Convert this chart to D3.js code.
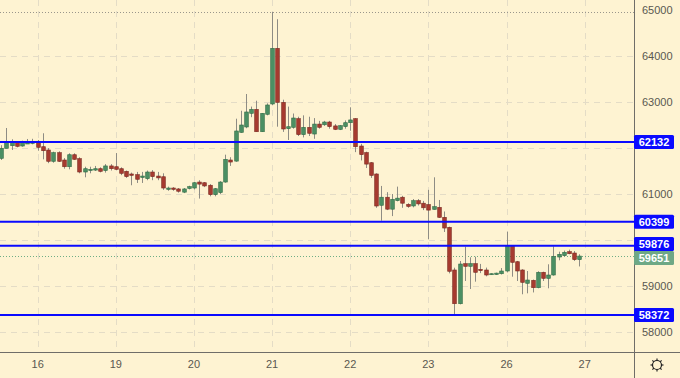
<!DOCTYPE html>
<html>
<head>
<meta charset="utf-8">
<script src="https://cdn.jsdelivr.net/npm/d3@7"></script>
<style>
html, body { margin: 0; padding: 0; background: #fef3d2; }
svg { display: block; font-family: "Liberation Sans", Arial, sans-serif; }
</style>
</head>
<body>
<div id="chart"></div>
<script>
// valores (um candle por barra)
var opens = [61776,61993,62050,62115,62043,62087,62100,62146,62028,61957,61711,61898,61739,61593,61854,61768,61478,61510,61520,61550,
  61510,61610,61593,61550,61493,61435,61420,61360,61333,61478,61390,61375,61100,61130,61110,61040,61120,61130,61260,61245,
  61190,60985,61030,61260,61739,61715,62340,62457,62754,62840,62354,62733,62957,64167,62993,62420,62450,62637,62290,62450,
  62304,62520,62505,62565,62480,62405,62465,62550,62637,62043,61900,61680,61435,60755,60930,60670,60855,60930,60775,60740,
  60855,60800,60770,60665,60710,60493,60276,59348,58615,59485,59428,59485,59363,59348,59254,59250,59267,59326,59876,59528,
  59348,59059,59124,58963,59298,59167,59239,59630,59659,59746,59717,59572];
var highs = [62060,62435,62189,62152,62159,62196,62200,62174,62320,62000,61920,61928,61780,61885,61885,61798,61593,61593,61610,61580,
  61650,61650,61890,61580,61510,61465,61480,61480,61510,61520,61480,61450,61160,61150,61130,61130,61180,61260,61300,61260,
  61215,61130,61280,61855,61800,62637,62810,63174,62900,63028,62760,62970,64957,64800,63050,62900,62750,62680,62710,62680,
  62650,62590,62590,62590,62520,62500,62600,62885,62650,62090,61920,61695,61450,61175,61040,61000,61160,60960,60800,60890,
  60890,60850,61090,61363,60870,60620,60290,59398,59544,59855,59624,59637,59480,59400,59275,59290,59390,60180,59890,59545,
  59365,59326,59140,59320,59311,59472,59863,59746,59770,59790,59760,59690];
var lows = [61740,61990,61957,62015,62028,62087,62080,61941,61754,61670,61680,61696,61550,61537,61740,61450,61363,61450,61500,61470,
  61465,61510,61520,61410,61350,61190,61240,61240,61300,61300,61300,61090,61070,61070,61030,61020,61100,61100,60900,61150,
  60950,60950,61000,61245,61610,61700,62330,62430,62670,62354,62350,62710,62930,62463,62350,62174,62420,62260,62230,62260,
  62200,62420,62480,62420,62390,62390,62420,62375,61910,61730,61565,61350,60700,60420,60650,60520,60840,60700,60700,60710,
  60750,60650,60015,60660,60480,60174,59275,58370,58600,59109,58935,59094,59280,59210,59240,59240,59250,59295,59202,59109,
  58820,58841,58860,58950,59109,58950,59225,59559,59640,59690,59545,59425];
var closes = [61994,62137,62137,62037,62115,62146,62140,62015,61941,61711,61898,61711,61593,61854,61754,61478,61550,61537,61550,61493,
  61610,61550,61537,61450,61377,61406,61320,61390,61478,61377,61350,61130,61130,61100,61060,61110,61160,61245,61215,61175,
  60985,61115,61260,61754,61695,62370,62500,62783,62840,62354,62754,62935,64167,62993,62413,62463,62652,62290,62450,62320,
  62520,62450,62565,62465,62405,62485,62550,62610,62028,61855,61650,61405,60739,60930,60670,60885,60910,60800,60730,60855,
  60785,60700,60650,60725,60493,60260,59320,58615,59478,59428,59485,59298,59333,59239,59267,59280,59326,59876,59515,59326,
  59080,59130,58963,59298,59167,59239,59646,59689,59733,59702,59572,59651];

var dayLabels = ["16", "19", "20", "21", "22", "23", "26", "27"];
var dayBars = [7, 22, 37, 52, 67, 82, 97, 112];
var priceTicks = [58000, 59000, 60000, 61000, 62000, 63000, 64000, 65000];
var levels = [62132, 60399, 59876, 58372];
var lastPrice = 59651;
var sessionHigh = 64957;

var W = 680, H = 378;
var plotRight = 634, plotBottom = 352;
var tagH = 14;

var upColor = "#4b8f63", upStroke = "#2f6b45";
var downColor = "#a63a2f", downStroke = "#7a2820";
var wickColor = "#8e8c84";

var svg = d3.select("#chart").append("svg")
  .attr("width", W).attr("height", H);

svg.append("rect").attr("width", W).attr("height", H).attr("fill", "#fef3d2");

// escalas
var x = d3.scaleLinear().domain([0, 112]).range([1.24, 1.24 + 112 * 5.209]);
var y = d3.scaleLinear().domain([65000, 58000]).range([10, 332]);

var plot = svg.append("g");
plot.append("clipPath").attr("id", "clip")
  .append("rect").attr("width", plotRight).attr("height", plotBottom);
var inner = plot.append("g").attr("clip-path", "url(#clip)");

// grade
inner.selectAll(".hgrid").data(priceTicks.filter(function(d) { return d < 65000; }))
  .enter().append("line")
  .attr("x1", 0).attr("x2", plotRight)
  .attr("y1", function(d) { return Math.round(y(d)) + 0.5; })
  .attr("y2", function(d) { return Math.round(y(d)) + 0.5; })
  .attr("stroke", "#e4dcc6").attr("stroke-dasharray", "6,5");

inner.selectAll(".vgrid").data(dayBars)
  .enter().append("line")
  .attr("x1", function(d) { return Math.round(x(d)) + 0.5; })
  .attr("x2", function(d) { return Math.round(x(d)) + 0.5; })
  .attr("y1", 0).attr("y2", plotBottom)
  .attr("stroke", "#e4dcc6").attr("stroke-dasharray", "6,5");

// linha pontilhada da maxima
inner.append("line")
  .attr("x1", 0).attr("x2", plotRight)
  .attr("y1", Math.round(y(sessionHigh)) + 0.5).attr("y2", Math.round(y(sessionHigh)) + 0.5)
  .attr("stroke", "#9a968c").attr("stroke-dasharray", "1,2");

// linha do ultimo preco
inner.append("line")
  .attr("x1", 0).attr("x2", plotRight)
  .attr("y1", Math.round(y(lastPrice)) + 0.5).attr("y2", Math.round(y(lastPrice)) + 0.5)
  .attr("stroke", "#6fae85").attr("stroke-dasharray", "1,2");

// candles
var idx = d3.range(opens.length);
var candles = inner.selectAll(".candle").data(idx).enter().append("g").attr("class", "candle");

candles.append("line")
  .attr("x1", function(i) { return Math.round(x(i)) + 0.5; })
  .attr("x2", function(i) { return Math.round(x(i)) + 0.5; })
  .attr("y1", function(i) { return y(highs[i]); })
  .attr("y2", function(i) { return y(lows[i]); })
  .attr("stroke", wickColor).attr("stroke-width", 1);

candles.append("rect")
  .attr("x", function(i) { return Math.round(x(i)) + 0.5 - 1.8; })
  .attr("width", 3.6)
  .attr("y", function(i) { return y(Math.max(opens[i], closes[i])); })
  .attr("height", function(i) { return Math.max(1, Math.abs(y(opens[i]) - y(closes[i]))); })
  .attr("fill", function(i) { return closes[i] >= opens[i] ? upColor : downColor; })
  .attr("stroke", function(i) { return closes[i] >= opens[i] ? upStroke : downStroke; })
  .attr("stroke-width", 0.6);

// niveis horizontais
inner.selectAll(".level").data(levels).enter().append("line")
  .attr("x1", 0).attr("x2", plotRight)
  .attr("y1", function(d) { return y(d); })
  .attr("y2", function(d) { return y(d); })
  .attr("stroke", "#0a0aff").attr("stroke-width", 2);

// eixos
svg.append("line").attr("x1", plotRight + 0.5).attr("x2", plotRight + 0.5)
  .attr("y1", 0).attr("y2", H).attr("stroke", "#6f6d68");
svg.append("line").attr("x1", 0).attr("x2", W)
  .attr("y1", plotBottom + 0.5).attr("y2", plotBottom + 0.5).attr("stroke", "#6f6d68");

// etiquetas: niveis + ultimo preco, afastadas quando se sobrepoem
var tags = levels.map(function(v) { return { value: v, color: "#0a0aff", pos: y(v) }; });
tags.push({ value: lastPrice, color: "#6ea885", pos: y(lastPrice) });
tags.sort(function(a, b) { return a.pos - b.pos; });
for (var k = 1; k < tags.length; k++) {
  var gap = tags[k].pos - tags[k - 1].pos;
  if (gap < tagH) {
    var push = (tagH - gap) / 2;
    tags[k - 1].pos -= push;
    tags[k].pos += push;
  }
}

// rotulos do eixo de preco (esconde os que ficam sob uma etiqueta)
var visibleTicks = priceTicks.filter(function(d) {
  return tags.every(function(t) { return Math.abs(t.pos - y(d)) > 11; });
});
svg.selectAll(".ptick").data(visibleTicks).enter().append("text")
  .attr("x", 642).attr("y", function(d) { return y(d); })
  .attr("dy", "0.35em")
  .attr("font-size", 11).attr("fill", "#5a5850")
  .text(function(d) { return d; });

svg.selectAll(".dtick").data(dayBars).enter().append("text")
  .attr("x", function(d) { return x(d); }).attr("y", 368)
  .attr("text-anchor", "middle")
  .attr("font-size", 11).attr("fill", "#5a5850")
  .text(function(d, i) { return dayLabels[i]; });

var tagG = svg.selectAll(".tag").data(tags).enter().append("g")
  .attr("transform", function(d) { return "translate(" + plotRight + "," + d.pos + ")"; });
tagG.append("rect").attr("x", 0).attr("y", -tagH / 2).attr("width", 40).attr("height", tagH)
  .attr("rx", 1.5).attr("fill", function(d) { return d.color; });
tagG.append("text").attr("x", 20).attr("y", 0).attr("dy", "0.36em")
  .attr("text-anchor", "middle").attr("font-size", 11).attr("font-weight", "bold")
  .attr("fill", "#ffffff").text(function(d) { return d.value; });

// icone de configuracao
var gear = svg.append("g").attr("transform", "translate(657,365)");
gear.append("circle").attr("r", 4.5).attr("fill", "none").attr("stroke", "#222").attr("stroke-width", 1.2);
d3.range(8).forEach(function(k) {
  var a = k * Math.PI / 4;
  gear.append("line")
    .attr("x1", Math.cos(a) * 4.5).attr("y1", Math.sin(a) * 4.5)
    .attr("x2", Math.cos(a) * 6.5).attr("y2", Math.sin(a) * 6.5)
    .attr("stroke", "#222").attr("stroke-width", 1.2);
});
</script>
</body>
</html>
